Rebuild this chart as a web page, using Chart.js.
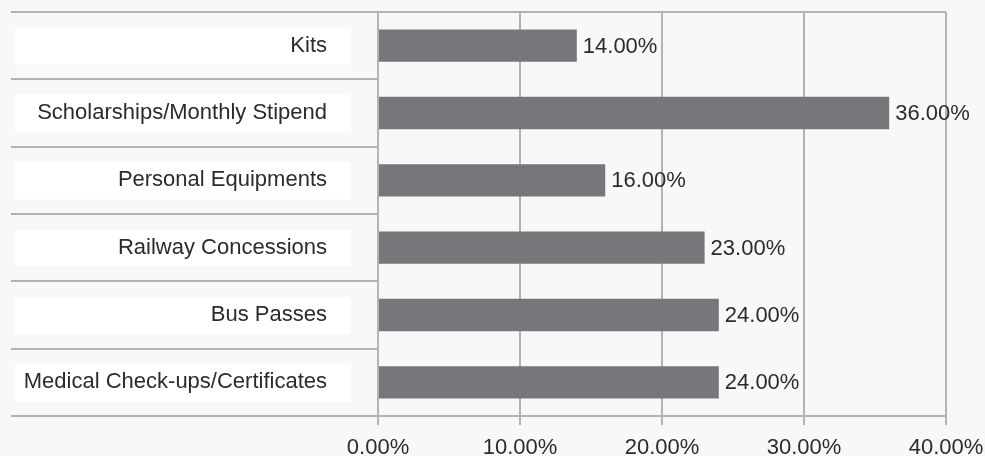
<!DOCTYPE html>
<html>
<head>
<meta charset="utf-8">
<script src="https://cdn.jsdelivr.net/npm/chart.js@4/dist/chart.umd.min.js"></script>
<style>
  html, body { margin: 0; padding: 0; background: #f8f8f8; }
  #wrap { width: 985px; height: 456px; }
</style>
</head>
<body>
<div id="wrap"><canvas id="c" width="985" height="456"></canvas></div>
<script>
// Share of respondents per benefit
const categories = [
  'Kits',
  'Scholarships/Monthly Stipend',
  'Personal Equipments',
  'Railway Concessions',
  'Bus Passes',
  'Medical Check-ups/Certificates'
];
const shares = [14, 36, 16, 23, 24, 24];
const xTicks = [0, 10, 20, 30, 40];

const FONT = "'Liberation Sans', Arial, sans-serif";
const TEXT = '#2b2b2b';
const LINE = '#b2b2b2';

// White label boxes behind category names
const labelBoxes = {
  id: 'labelBoxes',
  beforeDraw(chart) {
    const { ctx } = chart;
    const y = chart.scales.y;
    ctx.save();
    ctx.fillStyle = '#ffffff';
    categories.forEach((c, i) => {
      const cy = y.getPixelForValue(i);
      ctx.fillRect(15, cy - 18, 336, 37);
    });
    ctx.restore();
  }
};

// Value text to the right of each bar
const valueLabels = {
  id: 'valueLabels',
  afterDatasetsDraw(chart) {
    const { ctx } = chart;
    const meta = chart.getDatasetMeta(0);
    ctx.save();
    ctx.font = '22px ' + FONT;
    ctx.fillStyle = TEXT;
    ctx.textAlign = 'left';
    ctx.textBaseline = 'middle';
    meta.data.forEach((bar, i) => {
      ctx.fillText(shares[i].toFixed(2) + '%', bar.x + 6, bar.y + 1);
    });
    ctx.restore();
  }
};

new Chart(document.getElementById('c'), {
  type: 'bar',
  data: {
    labels: categories,
    datasets: [{
      data: shares,
      backgroundColor: '#76777b',
      borderWidth: 0,
      categoryPercentage: 1,
      barPercentage: 0.48
    }]
  },
  options: {
    indexAxis: 'y',
    responsive: false,
    animation: false,
    devicePixelRatio: 1,
    layout: { padding: { left: 11, top: 12, right: 39, bottom: 0 } },
    plugins: { legend: { display: false }, tooltip: { enabled: false } },
    scales: {
      x: {
        min: 0,
        max: 40,
        afterBuildTicks(scale) { scale.ticks = xTicks.map(v => ({ value: v })); },
        afterFit(scale) {
          scale.height = 40;
          scale.paddingLeft = 0;
          scale.paddingRight = 0;
        },
        grid: { color: LINE, lineWidth: 2, tickLength: 9, tickColor: LINE },
        border: { color: LINE, width: 2 },
        ticks: {
          color: TEXT,
          font: { family: FONT, size: 22 },
          padding: 10,
          maxRotation: 0,
          callback: v => Number(v).toFixed(2) + '%'
        }
      },
      y: {
        offset: true,
        afterFit(scale) { scale.width = 367; },
        grid: {
          offset: true,
          lineWidth: 2,
          tickLength: 367,
          tickColor: LINE,
          color: ctx => (ctx.index === 0 ? LINE : 'rgba(0,0,0,0)')
        },
        border: { color: LINE, width: 2 },
        ticks: {
          color: TEXT,
          font: { family: FONT, size: 22 },
          padding: -316
        }
      }
    }
  },
  plugins: [labelBoxes, valueLabels]
});
</script>
</body>
</html>
